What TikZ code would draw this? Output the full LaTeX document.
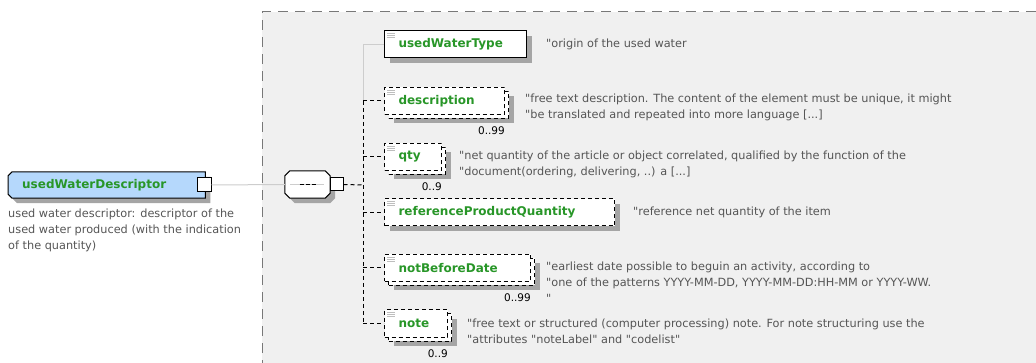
\documentclass[tikz,border=0pt]{standalone}
\usepackage{fontspec}
\setmainfont{DejaVu Sans}[Ligatures=TeXOff]
\usetikzlibrary{positioning,shadows}
\pgfdeclarelayer{back}
\pgfsetlayers{back,main}
\definecolor{areagray}{RGB}{240,240,240}
\definecolor{framegray}{RGB}{120,120,120}
\definecolor{shadegray}{RGB}{165,165,165}
\definecolor{linegray}{RGB}{205,205,205}
\definecolor{icongray}{RGB}{190,190,190}
\definecolor{namegreen}{RGB}{40,150,40}
\definecolor{topblue}{RGB}{181,216,252}
\definecolor{annotgray}{RGB}{85,85,85}
\begin{document}
\begin{tikzpicture}[x=1pt,y=-1pt,
  shadeone/.style={general shadow={shadow xshift=5pt,shadow yshift=-5pt,fill=shadegray}},
  elbase/.style={draw,fill=white,line width=1pt,minimum height=27pt,inner xsep=14pt,inner ysep=0pt,anchor=west,align=left,text=namegreen,font=\fontsize{12}{14}\selectfont\bfseries},
  elem/.style={elbase,shadeone},
  optelem/.style={elbase,shadeone,dash pattern=on 4pt off 3pt},
  manyelem/.style={elbase,dash pattern=on 4pt off 3pt,
    general shadow={shadow xshift=9pt,shadow yshift=-9pt,fill=shadegray},
    general shadow={shadow xshift=4pt,shadow yshift=-4pt,draw,fill=white,line width=1pt,dash pattern=on 4pt off 3pt}},
  topelem/.style={minimum height=26pt,inner xsep=14pt,inner ysep=0pt,anchor=west,align=left,text=namegreen,font=\fontsize{12}{14}\selectfont\bfseries},
  seqbox/.style={minimum width=45pt,minimum height=27pt,inner sep=0pt},
  portbox/.style={draw,fill=white,line width=1pt,minimum size=14pt,inner sep=0pt},
  annot/.style={anchor=north west,align=left,inner sep=0pt,text=annotgray,font=\fontsize{11.3}{16}\selectfont},
  card/.style={inner sep=0pt,font=\fontsize{10.5}{12}\selectfont},
  lightline/.style={linegray,line width=1pt},
  dashline/.style={line width=1pt,dash pattern=on 4pt off 3pt}]
\useasboundingbox (0,0) rectangle (1036,363);
\begin{pgfonlayer}{back}
\fill[areagray] (262,12) rectangle (1040,370);
\draw[framegray,line width=1pt,dash pattern=on 10pt off 7pt] (262,370) -- (262,12) -- (1040,12);
\end{pgfonlayer}

\node[topelem,text width=169pt] (top) at (8,185) {usedWaterDescriptor};
\node[portbox] (topport) at (204,185) {};
\node[annot] (toptext) at (8,209) {used water descriptor: descriptor of the\\used water produced (with the indication\\of the quantity)};

\node[seqbox] (seq) at (307.5,184.5) {};
\node[portbox,minimum size=13pt] (seqport) at (336.5,184.5) {};

\begin{pgfonlayer}{back}
\fill[shadegray,transform canvas={shift={(5pt,-5pt)}}] ([xshift=4pt]top.north west) -- (top.north east) -- (top.south east) -- ([xshift=4pt]top.south west) -- ([yshift=4pt]top.south west) -- ([yshift=-4pt]top.north west) -- cycle;
\draw[fill=topblue,line width=1pt] ([xshift=4pt]top.north west) -- (top.north east) -- (top.south east) -- ([xshift=4pt]top.south west) -- ([yshift=4pt]top.south west) -- ([yshift=-4pt]top.north west) -- cycle;
\fill[shadegray,transform canvas={shift={(5pt,-5pt)}}] ([xshift=5pt]seq.north west) -- ([xshift=-5pt]seq.north east) -- ([yshift=-5pt]seq.north east) -- ([yshift=5pt]seq.south east) -- ([xshift=-5pt]seq.south east) -- ([xshift=5pt]seq.south west) -- ([yshift=5pt]seq.south west) -- ([yshift=-5pt]seq.north west) -- cycle;
\draw[fill=white,line width=1pt] ([xshift=5pt]seq.north west) -- ([xshift=-5pt]seq.north east) -- ([yshift=-5pt]seq.north east) -- ([yshift=5pt]seq.south east) -- ([xshift=-5pt]seq.south east) -- ([xshift=5pt]seq.south west) -- ([yshift=5pt]seq.south west) -- ([yshift=-5pt]seq.north west) -- cycle;
\end{pgfonlayer}
\draw[lightline] ([xshift=5pt]seq.west) -- ([xshift=-6pt]seq.east);
\foreach \d in {-8,-2,4} \draw[line width=1.2pt] ([xshift=\d pt]seq.center) -- +(4pt,0);
\coordinate (trunk) at (363,185);

\node[elem,text width=114pt] (uwt) at (384,44.5) {usedWaterType};
\node[manyelem,text width=92pt] (desc) at (384,101) {description};
\node[manyelem,text width=29pt] (qty) at (384,157) {qty};
\node[optelem,text width=202pt] (rpq) at (384,212.5) {referenceProductQuantity};
\node[manyelem,text width=118pt] (nbd) at (384,268) {notBeforeDate};
\node[manyelem,text width=35pt] (note) at (384,323.5) {note};

\foreach \n in {uwt,desc,qty,rpq,nbd,note}
  \foreach \k in {3,5,7} \draw[icongray,line width=0.8pt] ([xshift=3pt,yshift=-\k pt]\n.north west) -- +(8pt,0);

\node[card,below left=12pt and 0pt of desc.south east] (desccard) {0..99};
\node[card,below left=12pt and 0pt of qty.south east] (qtycard) {0..9};
\node[card,below left=12pt and 0pt of nbd.south east] (nbdcard) {0..99};
\node[card,below left=12pt and 0pt of note.south east] (notecard) {0..9};

\node[annot] (uwttext) at ([xshift=19pt,yshift=6pt]uwt.east) {"origin of the used water};
\node[annot] (desctext) at ([xshift=20pt,yshift=7pt]desc.east) {"free text description. The content of the element must be unique, it might\\"be translated and repeated into more language [...]};
\node[annot] (qtytext) at ([xshift=17pt,yshift=6pt]qty.east) {"net quantity of the article or object correlated, qualified by the function of the\\"document(ordering, delivering, ..) a [...]};
\node[annot] (rpqtext) at ([xshift=18pt,yshift=6pt]rpq.east) {"reference net quantity of the item};
\node[annot] (nbdtext) at ([xshift=15pt,yshift=6pt]nbd.east) {"earliest date possible to beguin an activity, according to\\"one of the patterns YYYY-MM-DD, YYYY-MM-DD:HH-MM or YYYY-WW.\\"};
\node[annot] (notetext) at ([xshift=19pt,yshift=5pt]note.east) {"free text or structured (computer processing) note. For note structuring use the\\"attributes "noteLabel" and "codelist"};

\draw[lightline] (topport.east) -- (seq.west);
\draw[dashline] (seqport.east) -- (trunk);
\draw[lightline] (uwt.west) -| (trunk |- desc.west);
\draw[dashline] (trunk |- desc.west) -- (trunk |- note.west);
\foreach \n in {desc,qty,rpq,nbd,note} \draw[dashline] (trunk |- \n.west) -- (\n.west);
\end{tikzpicture}
\end{document}
